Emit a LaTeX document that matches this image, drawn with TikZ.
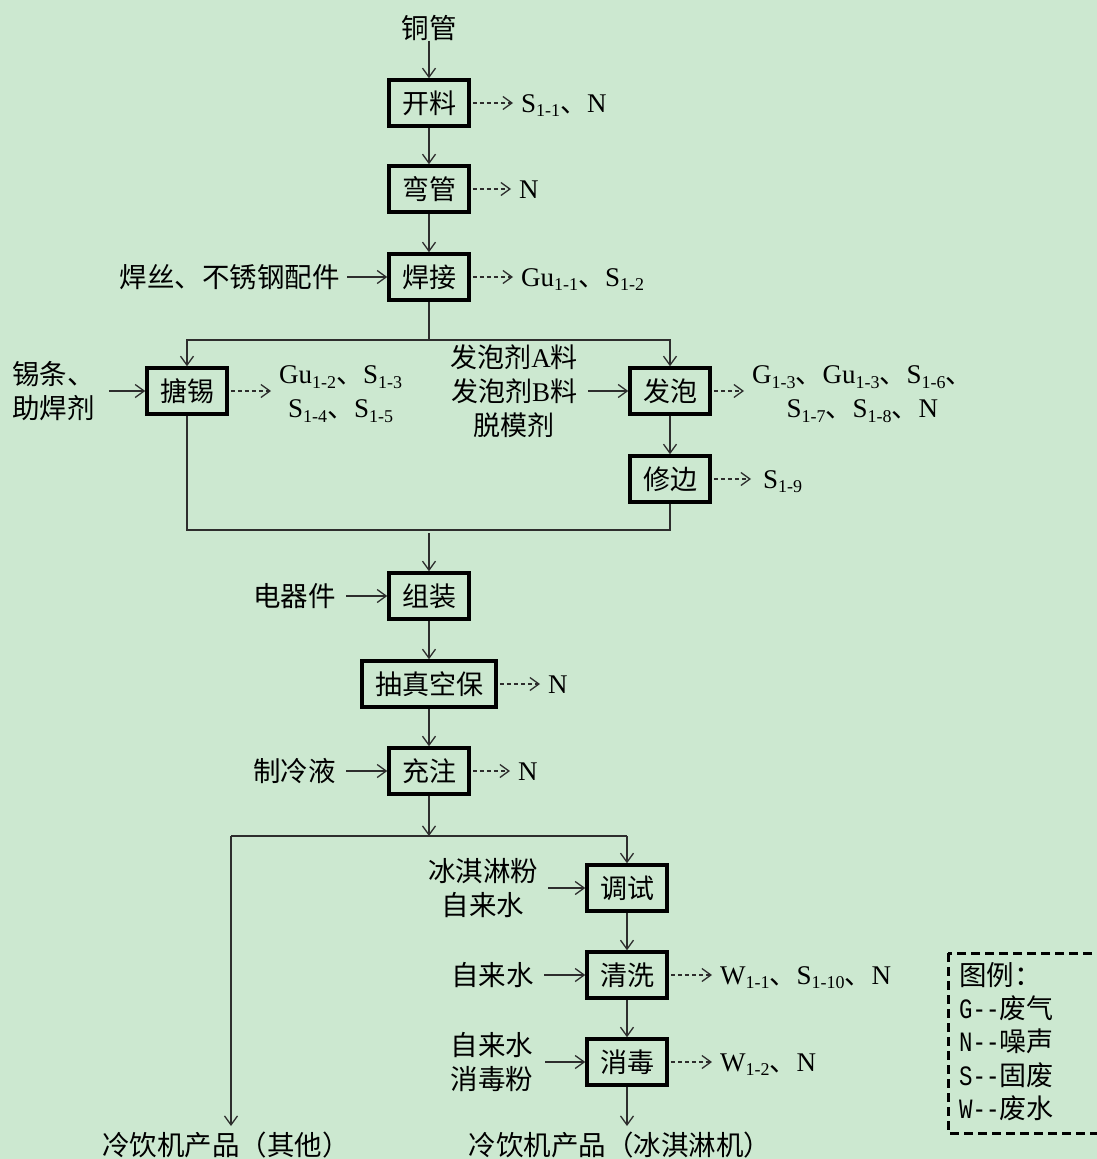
\documentclass[tikz,border=0pt]{standalone}
\usepackage{fontspec}
\setmainfont{Liberation Serif}
\newfontfamily\cjk{Noto Sans CJK SC}
\newfontfamily\mono{Liberation Mono}
\usetikzlibrary{arrows.meta}
\definecolor{bg}{RGB}{204,232,208}
\definecolor{lc}{RGB}{45,45,45}
\newcommand\dn{{\cjk 、}}
\newcommand\ssb[1]{\raisebox{-0.35ex}{\fontsize{18}{18}\selectfont #1}}
\newcommand\lgm[1]{\scalebox{0.8}[1]{\mono\fontsize{28}{28}\selectfont #1}}
\begin{document}
\begin{tikzpicture}[x=1pt,y=-1pt,
 every node/.style={font=\fontsize{27}{34}\selectfont},
 box/.style={draw=black, line width=3.5pt, minimum height=46pt, minimum width=80pt, inner xsep=13pt, inner ysep=0pt, font=\cjk\fontsize{27}{34}\selectfont},
 txt/.style={inner sep=0pt, align=center, font=\cjk\fontsize{27.5}{34}\selectfont},
 outl/.style={inner sep=0pt, align=center},
 conn/.style={draw=lc, line width=1.3pt},
 arr/.style={conn, -{Straight Barb[length=9pt,width=13pt]}},
 dsh/.style={arr, dash pattern=on 4.5pt off 2.5pt, shorten <=2pt, shorten >=8pt},
 inarr/.style={arr, shorten <=9pt}
]
\fill[bg] (0,0) rectangle (1097,1159);
\useasboundingbox (0,0) rectangle (1097,1159);

% process boxes
\node[box] (kl) at (429,103) {开料};
\node[box] (wg) at (429,189) {弯管};
\node[box] (hj) at (429,277) {焊接};
\node[box] (tx) at (187,391) {搪锡};
\node[box] (fp) at (670,391) {发泡};
\node[box] (xb) at (670,479) {修边};
\node[box] (zz) at (429,596) {组装};
\node[box] (cz) at (429,684) {抽真空保};
\node[box] (cf) at (429,771) {充注};
\node[box] (ts) at (627,888) {调试};
\node[box] (qx) at (627,975) {清洗};
\node[box] (xd) at (627,1062) {消毒};

% inputs
\node[txt] (tg) at (429,28) {铜管};
\node[txt, anchor=east] (in1) at (340,277) {焊丝、不锈钢配件};
\node[txt, anchor=west, align=left] (in2) at (12,391) {锡条、\\助焊剂};
\node[outl] (in3) at (514,391) {{\cjk 发泡剂}A{\cjk 料}\\{\cjk 发泡剂}B{\cjk 料}\\{\cjk 脱模剂}};
\node[txt, anchor=east] (in4) at (336,596) {电器件};
\node[txt, anchor=east] (in5) at (336,771) {制冷液};
\node[txt] (in6) at (483,888) {冰淇淋粉\\自来水};
\node[txt, anchor=east] (in7) at (534,975) {自来水};
\node[txt] (in8) at (492,1062) {自来水\\消毒粉};

% outputs
\node[outl, anchor=base west] (o1) at (521,112) {S\ssb{1-1}\dn N};
\node[outl, anchor=base west] (o2) at (519,198) {N};
\node[outl, anchor=base west] (o3) at (521,286) {Gu\ssb{1-1}\dn S\ssb{1-2}};
\node[outl, anchor=west] (o4) at (279,394) {Gu\ssb{1-2}\dn S\ssb{1-3}\\S\ssb{1-4}\dn S\ssb{1-5}};
\node[outl, anchor=west] (o5) at (752,394) {G\ssb{1-3}\dn Gu\ssb{1-3}\dn S\ssb{1-6}\dn\\S\ssb{1-7}\dn S\ssb{1-8}\dn N};
\node[outl, anchor=base west] (o6) at (763,488) {S\ssb{1-9}};
\node[outl, anchor=base west] (o7) at (548,693) {N};
\node[outl, anchor=base west] (o8) at (518,780) {N};
\node[outl, anchor=base west] (o9) at (720,984) {W\ssb{1-1}\dn S\ssb{1-10}\dn N};
\node[outl, anchor=base west] (o10) at (720,1071) {W\ssb{1-2}\dn N};

% products
\node[txt] (p1) at (226,1145) {冷饮机产品（其他）};
\node[txt] (p2) at (620,1145) {冷饮机产品（冰淇淋机）};

% junction coordinates
\coordinate (j1) at (429,340);
\coordinate (j2) at (429,530);
\coordinate (j3) at (429,836);
\coordinate (j3l) at (231,836);
\coordinate (j3r) at (627,836);
\coordinate (e1) at (231,1126);
\coordinate (e2) at (627,1126);

% main flow
\draw[arr] (tg.south) -- (kl.north);
\draw[arr] (kl) -- (wg);
\draw[arr] (wg) -- (hj);
\draw[conn] (hj.south) -- (j1);
\draw[arr] (j1) -| (tx.north);
\draw[arr] (j1) -| (fp.north);
\draw[arr] (fp) -- (xb);
\draw[conn] (tx.south) |- (j2);
\draw[conn] (xb.south) |- (j2);
\draw[arr] (j2) ++(0,3) -- (zz.north);
\draw[arr] (zz) -- (cz);
\draw[arr] (cz) -- (cf);
\draw[arr] (cf.south) -- (j3);
\draw[conn] (j3l) -- (j3r);
\draw[arr] (j3l) -- (e1);
\draw[arr] (j3r) -- (ts.north);
\draw[arr] (ts) -- (qx);
\draw[arr] (qx) -- (xd);
\draw[arr] (xd.south) -- (e2);

% input arrows
\draw[inarr, shorten <=7pt] (in1.east) -- (hj.west);
\draw[inarr, shorten <=14pt] (in2.east) -- (tx.west);
\draw[inarr, shorten <=10pt] (in3.east) -- (fp.west);
\draw[inarr, shorten <=10pt] (in4.east) -- (zz.west);
\draw[inarr, shorten <=10pt] (in5.east) -- (cf.west);
\draw[inarr, shorten <=10pt] (in6.east) -- (ts.west);
\draw[inarr, shorten <=10pt] (in7.east) -- (qx.west);
\draw[inarr, shorten <=12pt] (in8.east) -- (xd.west);

% output dashed arrows
\draw[dsh] (kl.east) -- (kl.east -| o1.west);
\draw[dsh] (wg.east) -- (wg.east -| o2.west);
\draw[dsh] (hj.east) -- (hj.east -| o3.west);
\draw[dsh] (tx.east) -- (tx.east -| o4.west);
\draw[dsh] (fp.east) -- (fp.east -| o5.west);
\draw[dsh, shorten >=12pt] (xb.east) -- (xb.east -| o6.west);
\draw[dsh] (cz.east) -- (cz.east -| o7.west);
\draw[dsh] (cf.east) -- (cf.east -| o8.west);
\draw[dsh] (qx.east) -- (qx.east -| o9.west);
\draw[dsh] (xd.east) -- (xd.east -| o10.west);

% legend
\draw[line width=3pt, dash pattern=on 9pt off 5pt] (948,953) rectangle (1120,1133);
\node[txt, anchor=west] (lg0) at (959,975) {图例：};
\node[outl, anchor=west] (lg1) at (959,1008) {\lgm{G--}{\cjk 废气}};
\node[outl, anchor=west] (lg2) at (959,1041) {\lgm{N--}{\cjk 噪声}};
\node[outl, anchor=west] (lg3) at (959,1075) {\lgm{S--}{\cjk 固废}};
\node[outl, anchor=west] (lg4) at (959,1108) {\lgm{W--}{\cjk 废水}};
\end{tikzpicture}
\end{document}
